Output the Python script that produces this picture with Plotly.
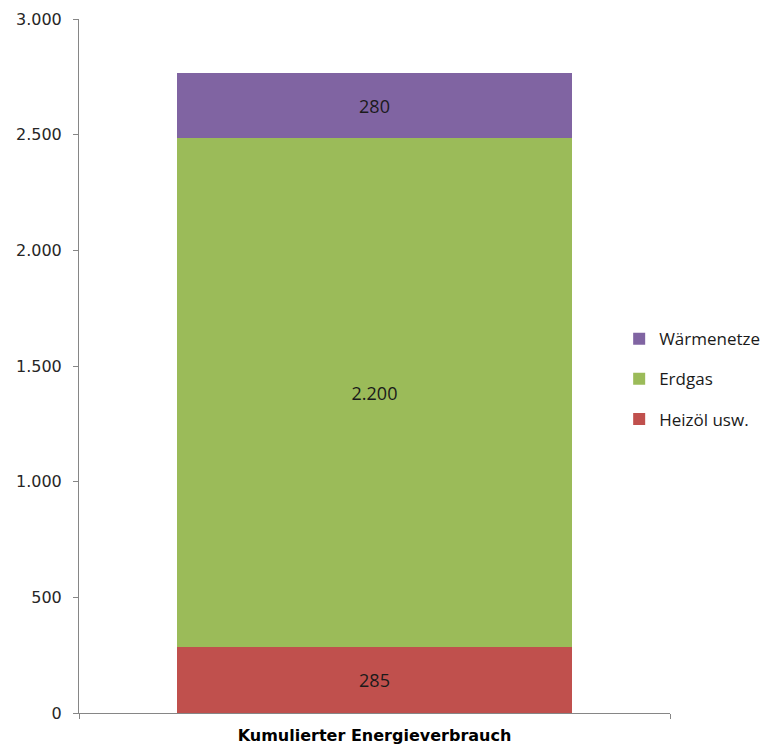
import plotly.graph_objects as go

# Cumulative energy consumption, split by energy carrier
category = ["Kumulierter Energieverbrauch"]
series_names = ["Heizöl usw.", "Erdgas", "Wärmenetze"]
series_values = [[285], [2200], [280]]
series_colors = ["#C0504D", "#9BBB59", "#8064A2"]
legend_ranks = [3, 2, 1]

y_ticks = [0, 500, 1000, 1500, 2000, 2500, 3000]

fig = go.Figure()
for name, vals, color, rank in zip(series_names, series_values, series_colors, legend_ranks):
    fig.add_trace(go.Bar(
        x=category,
        y=vals,
        name=name,
        legendgroup=name,
        legendrank=rank,
        marker=dict(color=color, line=dict(width=0)),
        width=0.667,
        text=vals,
        texttemplate="%{y:,}",
        textposition="inside",
        insidetextanchor="middle",
        textangle=0,
        textfont=dict(family="Open Sans", size=18, color="#1a1a1a"),
        hoverinfo="skip",
    ))

fig.update_layout(
    width=764,
    height=744,
    barmode="stack",
    separators=",.",
    plot_bgcolor="white",
    paper_bgcolor="white",
    margin=dict(l=79, r=94, t=19, b=31, autoexpand=False),
    uniformtext=dict(minsize=8, mode="show"),
    legend=dict(
        x=0.914,
        xanchor="left",
        y=0.481,
        yanchor="middle",
        traceorder="grouped",
        tracegroupgap=15,
        font=dict(family="Open Sans", size=17, color="#1a1a1a"),
        itemwidth=30,
        bgcolor="rgba(0,0,0,0)",
    ),
    xaxis=dict(
        type="category",
        range=[-0.5, 0.5],
        tickson="boundaries",
        ticks="outside",
        ticklen=5,
        tickcolor="#868686",
        showline=True,
        linecolor="#868686",
        linewidth=1,
        showgrid=False,
        ticklabelstandoff=8,
        tickfont=dict(family="DejaVu Sans", size=16, color="#000000", weight="bold"),
    ),
    yaxis=dict(
        range=[0, 3000],
        tickvals=y_ticks,
        tickformat=",",
        ticks="outside",
        ticklen=5,
        tickcolor="#868686",
        showline=True,
        linecolor="#868686",
        linewidth=1,
        showgrid=False,
        zeroline=False,
        ticklabelstandoff=8,
        tickfont=dict(family="DejaVu Sans", size=16, color="#262626"),
    ),
)

fig.write_html("out.html")
